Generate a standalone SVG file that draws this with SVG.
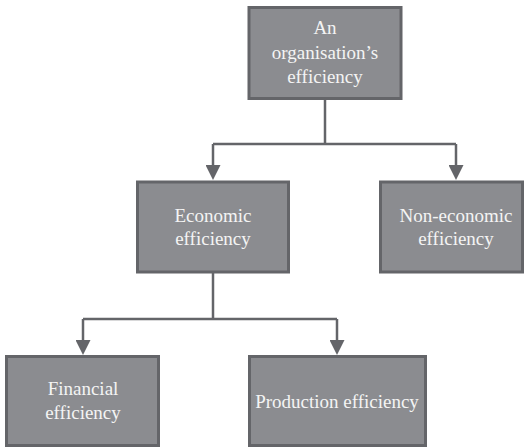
<svg xmlns="http://www.w3.org/2000/svg" width="525" height="447" viewBox="0 0 525 447">
  <style>
    .box { fill: #8b8c90; stroke: #646569; stroke-width: 3; }
    .lbl { font-family: "Liberation Serif", "Times New Roman", serif; font-size: 19px; fill: #f4f4f4; text-anchor: middle; }
    .conn { fill: none; stroke: #646569; stroke-width: 2.5; }
  </style>
  <defs>
    <marker id="arrow" markerUnits="userSpaceOnUse" markerWidth="15" markerHeight="15" viewBox="0 0 15 15" refX="11" refY="7.5" orient="auto">
      <path d="M0,0 L15,7.5 L0,15 Z" fill="#646569"/>
    </marker>
  </defs>
  <rect width="525" height="447" fill="#ffffff"/>
  <g id="connectors">
    <path class="conn" d="M325,99 V144"/>
    <path class="conn" d="M213,144 H456"/>
    <path class="conn" d="M213,144 V176" marker-end="url(#arrow)"/>
    <path class="conn" d="M456,144 V176" marker-end="url(#arrow)"/>
    <path class="conn" d="M213,273 V319"/>
    <path class="conn" d="M83,319 H337"/>
    <path class="conn" d="M83,319 V351" marker-end="url(#arrow)"/>
    <path class="conn" d="M337,319 V351" marker-end="url(#arrow)"/>
  </g>
  <g id="node-organisation">
    <rect class="box" x="249" y="7.5" width="152" height="91"/>
    <text class="lbl" x="325" y="34">An</text>
    <text class="lbl" x="325" y="58.5">organisation’s</text>
    <text class="lbl" x="325" y="83">efficiency</text>
  </g>
  <g id="node-economic">
    <rect class="box" x="137.5" y="182" width="151" height="90"/>
    <text class="lbl" x="213" y="221.5">Economic</text>
    <text class="lbl" x="213" y="245">efficiency</text>
  </g>
  <g id="node-noneconomic">
    <rect class="box" x="380.5" y="182" width="142" height="90"/>
    <text class="lbl" x="456" y="221.5">Non-economic</text>
    <text class="lbl" x="456" y="245">efficiency</text>
  </g>
  <g id="node-financial">
    <rect class="box" x="6.5" y="356.5" width="152" height="89"/>
    <text class="lbl" x="83" y="395">Financial</text>
    <text class="lbl" x="83" y="418.5">efficiency</text>
  </g>
  <g id="node-production">
    <rect class="box" x="249.5" y="356.5" width="176" height="89"/>
    <text class="lbl" x="337" y="408">Production efficiency</text>
  </g>
</svg>
